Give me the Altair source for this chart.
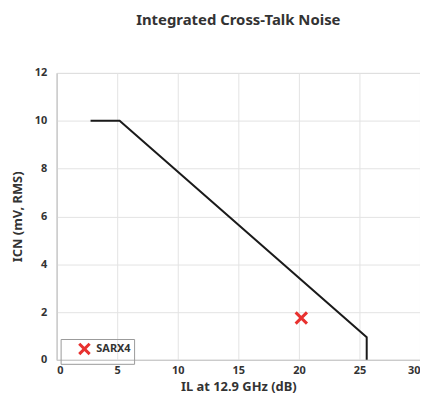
import altair as alt
import pandas as pd

# Limit line (IL vs ICN)
line_il = [2.8, 5.2, 25.6, 25.6]
line_icn = [10.0, 10.0, 0.95, 0.0]

# Measured point
pt_name = ["SARX4"]
pt_il = [20.2]
pt_icn = [1.75]

x_ticks = [0, 5, 10, 15, 20, 25, 30]
y_ticks = [0, 2, 4, 6, 8, 10, 12]

line_df = pd.DataFrame({"il": line_il, "icn": line_icn, "order": list(range(len(line_il)))})
pt_df = pd.DataFrame({"name": pt_name, "il": pt_il, "icn": pt_icn})

FONT = "Noto Sans"
XPATH = "M-1,-1L1,1M1,-1L-1,1"

xscale = alt.Scale(domain=[0, 30], nice=False)
yscale = alt.Scale(domain=[0, 12], nice=False)

xaxis = alt.Axis(values=x_ticks, title="IL at 12.9 GHz (dB)", grid=True, ticks=False,
                 labelPadding=5, titlePadding=5)
yaxis = alt.Axis(values=y_ticks, title="ICN (mV, RMS)", grid=True, ticks=False,
                 labelPadding=10, titlePadding=10)

line = alt.Chart(line_df).mark_line(color="#1a1a1a", strokeWidth=2).encode(
    x=alt.X("il:Q", scale=xscale, axis=xaxis),
    y=alt.Y("icn:Q", scale=yscale, axis=yaxis),
    order="order:Q",
)

pts = alt.Chart(pt_df).mark_point(shape=XPATH, filled=False, strokeWidth=3, size=130, opacity=1).encode(
    x=alt.X("il:Q", scale=xscale),
    y=alt.Y("icn:Q", scale=yscale),
    color=alt.Color("name:N", scale=alt.Scale(domain=pt_name, range=["#e8312f"]),
                    legend=alt.Legend(title=None, orient="none", legendX=4, legendY=268,
                                      strokeColor="#9a9a9a", padding=3, symbolType=XPATH,
                                      symbolStrokeWidth=3, symbolSize=110, symbolOffset=14,
                                      labelOffset=5,
                                      labelFontSize=11, labelFontWeight="bold", labelColor="#333333",
                                      labelFont=FONT, symbolFillColor="transparent")),
)

chart = alt.layer(line, pts).properties(
    width=366, height=289,
    title=alt.Title("Integrated Cross-Talk Noise", fontSize=15, fontWeight="bold",
                    font=FONT, color="#333333", offset=39, anchor="middle"),
    autosize=alt.AutoSizeParams(type="none"),
    padding={"left": 49, "top": 64, "right": 0, "bottom": 36},
).configure_view(stroke="#b0b0b0", strokeWidth=1).configure_axis(
    gridColor="#e3e3e3", domainColor="#c8c8c8", labelFont=FONT, titleFont=FONT,
    labelFontSize=11, labelFontWeight="bold", labelColor="#333333",
    titleFontSize=13, titleFontWeight="bold", titleColor="#333333",
)

chart.save("out.html", embed_options={"renderer": "svg", "actions": False})
